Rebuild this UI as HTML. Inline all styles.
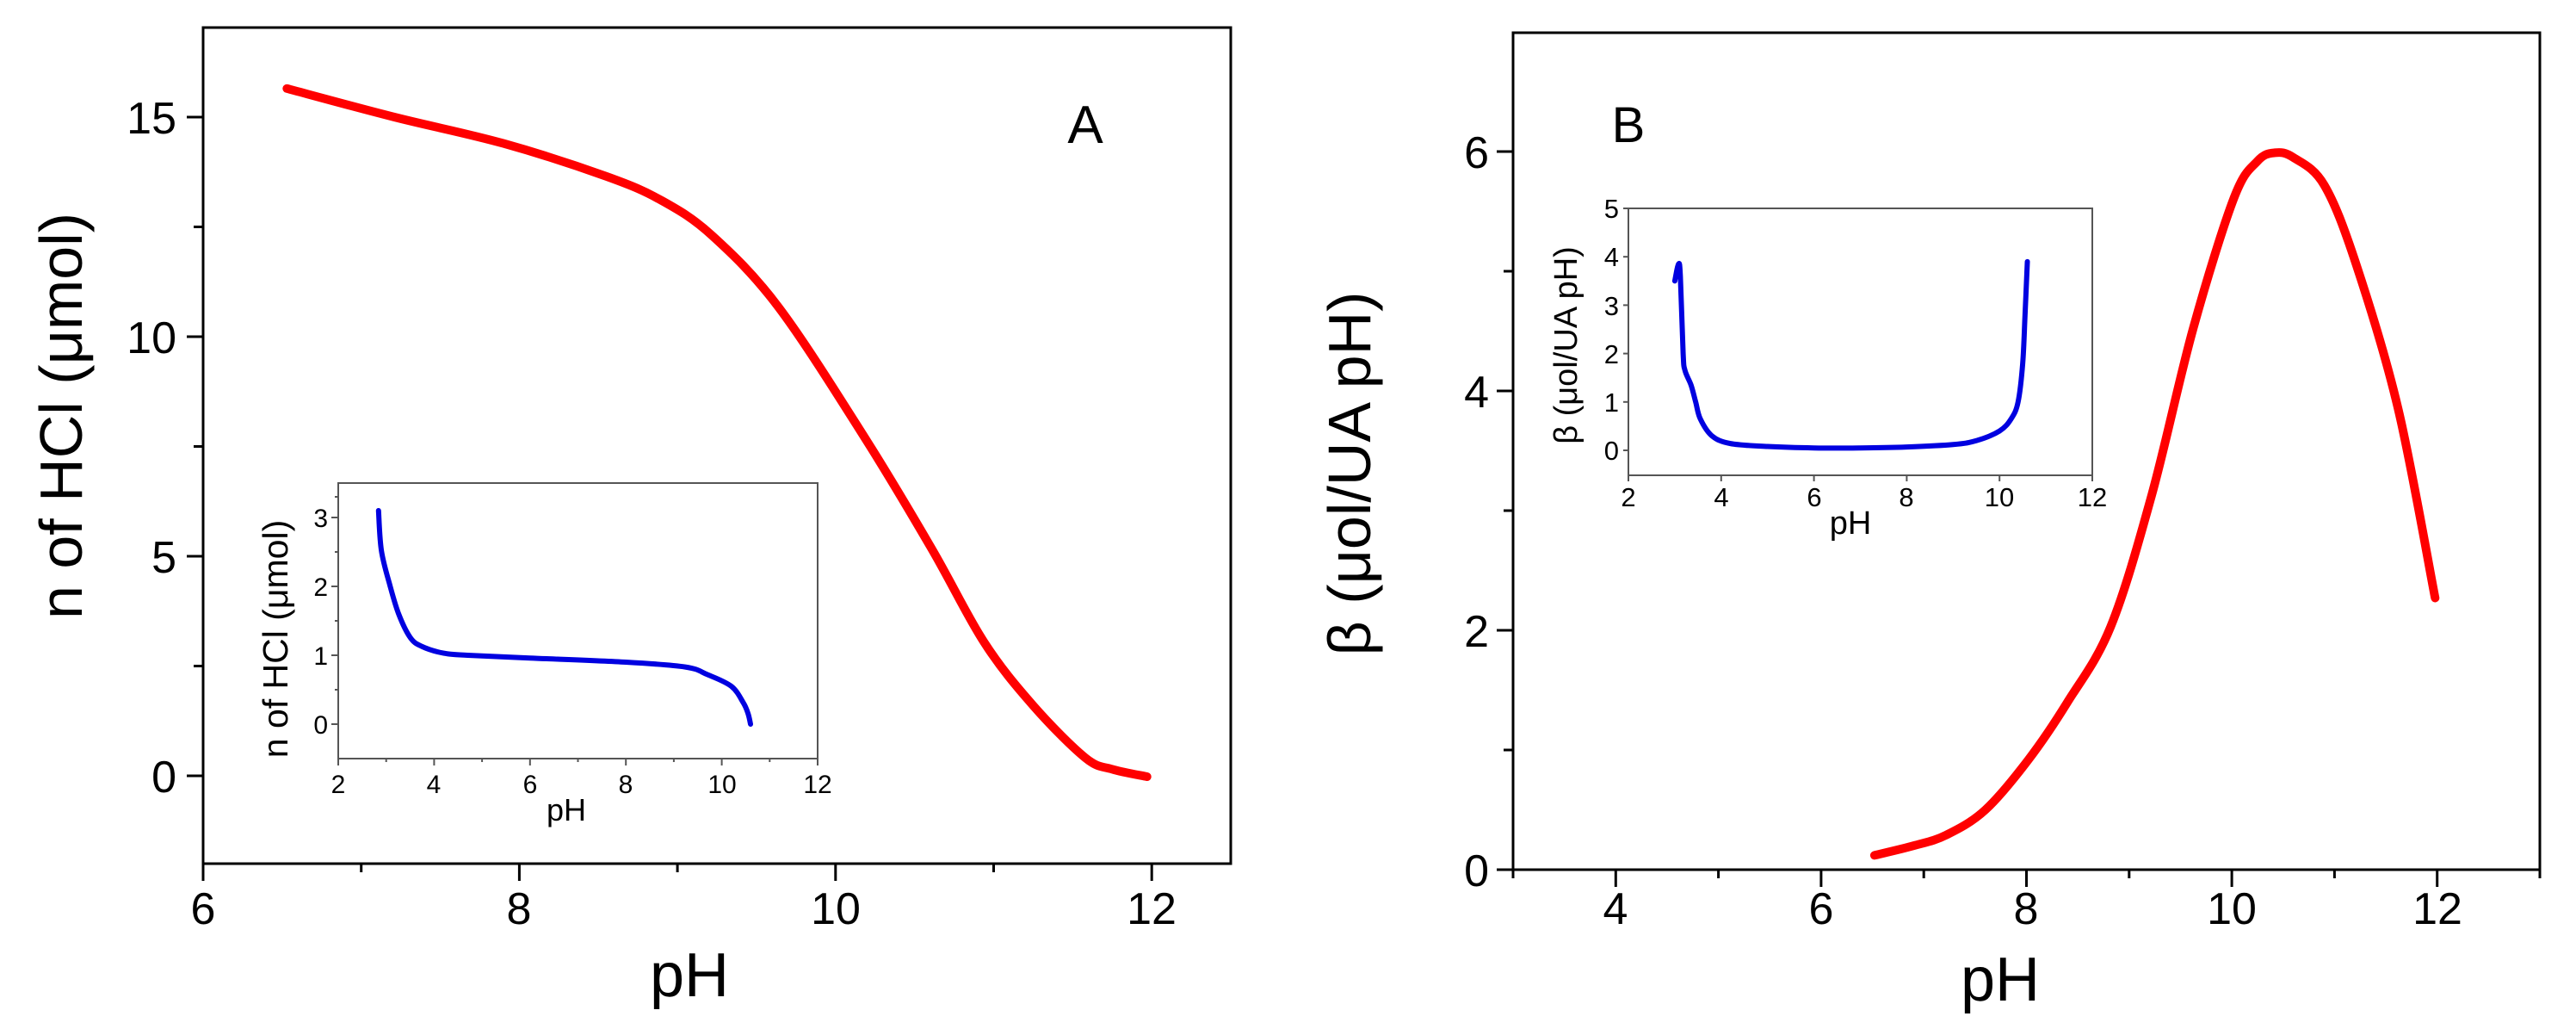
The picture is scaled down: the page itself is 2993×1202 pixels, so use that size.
<!DOCTYPE html>
<html><head><meta charset="utf-8"><style>
html,body{margin:0;padding:0;background:#fff}
svg{display:block}
text{font-family:"Liberation Sans",Arial,sans-serif;fill:#000}
</style></head><body>
<svg width="2993" height="1202" viewBox="0 0 2993 1202" xmlns="http://www.w3.org/2000/svg">
<!-- LEFT MAIN -->
<rect x="236" y="32" width="1194" height="971" fill="none" stroke="#000" stroke-width="3"/>
<g stroke="#000" stroke-width="3">
<line x1="217" y1="901" x2="236" y2="901"/><line x1="217" y1="646" x2="236" y2="646"/><line x1="217" y1="391" x2="236" y2="391"/><line x1="217" y1="136" x2="236" y2="136"/>
<line x1="225" y1="773.5" x2="236" y2="773.5"/><line x1="225" y1="518.5" x2="236" y2="518.5"/><line x1="225" y1="263.5" x2="236" y2="263.5"/>
<line x1="236" y1="1003" x2="236" y2="1023"/><line x1="603.4" y1="1003" x2="603.4" y2="1023"/><line x1="970.8" y1="1003" x2="970.8" y2="1023"/><line x1="1338.2" y1="1003" x2="1338.2" y2="1023"/>
<line x1="419.7" y1="1003" x2="419.7" y2="1013"/><line x1="787.1" y1="1003" x2="787.1" y2="1013"/><line x1="1154.5" y1="1003" x2="1154.5" y2="1013"/>
</g>
<g font-size="52" text-anchor="end">
<text x="205" y="920">0</text><text x="205" y="665">5</text><text x="205" y="410">10</text><text x="205" y="155">15</text>
</g>
<g font-size="52" text-anchor="middle">
<text x="236" y="1073">6</text><text x="603" y="1073">8</text><text x="971" y="1073">10</text><text x="1338" y="1073">12</text>
</g>
<text x="801" y="1157" font-size="72" text-anchor="middle">pH</text>
<text transform="translate(95,483) rotate(-90)" font-size="70" text-anchor="middle">n of HCl (μmol)</text>
<text x="1261" y="166" font-size="62" text-anchor="middle">A</text>
<path class="sm" transform="matrix(183.7,0,0,-51,-866.2,901)" vector-effect="non-scaling-stroke" fill="none" stroke="#f00" stroke-width="10" stroke-linecap="round" stroke-linejoin="round"
d="M6.53,15.65 L7.21,15.0 L7.9,14.4 L8.55,13.65 L8.9,13.1 L9.22,12.3 L9.64,10.67 L10.19,7.67 L10.61,5.16 L10.94,3.04 L11.25,1.6 L11.58,0.41 L11.75,0.15 L11.97,-0.02"/>
<!-- LEFT INSET -->
<rect x="393" y="561" width="557" height="320" fill="none" stroke="#555" stroke-width="2"/>
<g stroke="#555" stroke-width="2">
<line x1="385" y1="841" x2="393" y2="841"/><line x1="385" y1="761" x2="393" y2="761"/><line x1="385" y1="681" x2="393" y2="681"/><line x1="385" y1="601" x2="393" y2="601"/>
<line x1="389" y1="801" x2="393" y2="801"/><line x1="389" y1="721" x2="393" y2="721"/><line x1="389" y1="641" x2="393" y2="641"/><line x1="389" y1="577" x2="393" y2="577"/>
<line x1="393" y1="881" x2="393" y2="889"/><line x1="504.4" y1="881" x2="504.4" y2="889"/><line x1="615.8" y1="881" x2="615.8" y2="889"/><line x1="727.2" y1="881" x2="727.2" y2="889"/><line x1="838.6" y1="881" x2="838.6" y2="889"/><line x1="950" y1="881" x2="950" y2="889"/>
<line x1="448.7" y1="881" x2="448.7" y2="885"/><line x1="560.1" y1="881" x2="560.1" y2="885"/><line x1="671.5" y1="881" x2="671.5" y2="885"/><line x1="782.9" y1="881" x2="782.9" y2="885"/><line x1="894.3" y1="881" x2="894.3" y2="885"/>
</g>
<g font-size="30" text-anchor="end">
<text x="381" y="852">0</text><text x="381" y="772">1</text><text x="381" y="692">2</text><text x="381" y="612">3</text>
</g>
<g font-size="30" text-anchor="middle">
<text x="393" y="921">2</text><text x="504" y="921">4</text><text x="616" y="921">6</text><text x="727" y="921">8</text><text x="839" y="921">10</text><text x="950" y="921">12</text>
</g>
<text x="658" y="953" font-size="36" text-anchor="middle">pH</text>
<text transform="translate(334,742) rotate(-90)" font-size="41" text-anchor="middle">n of HCl (μmol)</text>
<path class="sm" transform="matrix(55.7,0,0,-80,281.6,841)" vector-effect="non-scaling-stroke" fill="none" stroke="#0000e0" stroke-width="6" stroke-linecap="round" stroke-linejoin="round"
d="M2.84,3.1 L2.9,2.52 L3.08,2.01 L3.26,1.6 L3.5,1.26 L3.74,1.13 L4.2,1.03 L4.7,1.0 L6,0.96 L8,0.9 L9.24,0.83 L9.7,0.72 L10.2,0.55 L10.45,0.31 L10.55,0.15 L10.6,0"/>
<!-- RIGHT MAIN -->
<rect x="1758" y="38" width="1193" height="972" fill="none" stroke="#000" stroke-width="3"/>
<g stroke="#000" stroke-width="3">
<line x1="1739" y1="1010" x2="1758" y2="1010"/><line x1="1739" y1="732" x2="1758" y2="732"/><line x1="1739" y1="454" x2="1758" y2="454"/><line x1="1739" y1="176" x2="1758" y2="176"/>
<line x1="1747" y1="871" x2="1758" y2="871"/><line x1="1747" y1="593" x2="1758" y2="593"/><line x1="1747" y1="315" x2="1758" y2="315"/>
<line x1="1877.3" y1="1010" x2="1877.3" y2="1030"/><line x1="2115.9" y1="1010" x2="2115.9" y2="1030"/><line x1="2354.5" y1="1010" x2="2354.5" y2="1030"/><line x1="2593.1" y1="1010" x2="2593.1" y2="1030"/><line x1="2831.7" y1="1010" x2="2831.7" y2="1030"/>
<line x1="1758" y1="1010" x2="1758" y2="1020"/><line x1="1996.6" y1="1010" x2="1996.6" y2="1020"/><line x1="2235.2" y1="1010" x2="2235.2" y2="1020"/><line x1="2473.8" y1="1010" x2="2473.8" y2="1020"/><line x1="2712.4" y1="1010" x2="2712.4" y2="1020"/><line x1="2951" y1="1010" x2="2951" y2="1020"/>
</g>
<g font-size="52" text-anchor="end">
<text x="1730" y="1029">0</text><text x="1730" y="751">2</text><text x="1730" y="473">4</text><text x="1730" y="195">6</text>
</g>
<g font-size="52" text-anchor="middle">
<text x="1877" y="1073">4</text><text x="2116" y="1073">6</text><text x="2354" y="1073">8</text><text x="2593" y="1073">10</text><text x="2832" y="1073">12</text>
</g>
<text x="2324" y="1162" font-size="72" text-anchor="middle">pH</text>
<text transform="translate(1592,550) rotate(-90)" font-size="70" text-anchor="middle">β (μol/UA pH)</text>
<text x="1892" y="165" font-size="58" text-anchor="middle">B</text>
<path class="sm" transform="matrix(119.3,0,0,-139,1400.1,1010)" vector-effect="non-scaling-stroke" fill="none" stroke="#f00" stroke-width="10" stroke-linecap="round" stroke-linejoin="round"
d="M6.52,0.12 L6.9,0.2 L7.22,0.29 L7.6,0.5 L8.02,0.92 L8.4,1.4 L8.82,2.03 L9.22,3.13 L9.62,4.51 L10.02,5.61 L10.25,5.92 L10.42,5.99 L10.6,5.95 L10.9,5.72 L11.21,5.06 L11.62,3.85 L11.98,2.27"/>
<!-- RIGHT INSET -->
<rect x="1892" y="242" width="539" height="310" fill="none" stroke="#555" stroke-width="2"/>
<g stroke="#555" stroke-width="2">
<line x1="1886" y1="523" x2="1892" y2="523"/><line x1="1886" y1="466.8" x2="1892" y2="466.8"/><line x1="1886" y1="410.6" x2="1892" y2="410.6"/><line x1="1886" y1="354.4" x2="1892" y2="354.4"/><line x1="1886" y1="298.2" x2="1892" y2="298.2"/><line x1="1886" y1="242" x2="1892" y2="242"/>
<line x1="1892" y1="552" x2="1892" y2="559"/><line x1="1999.8" y1="552" x2="1999.8" y2="559"/><line x1="2107.6" y1="552" x2="2107.6" y2="559"/><line x1="2215.4" y1="552" x2="2215.4" y2="559"/><line x1="2323.2" y1="552" x2="2323.2" y2="559"/><line x1="2431" y1="552" x2="2431" y2="559"/>
</g>
<g font-size="31" text-anchor="end">
<text x="1881" y="534">0</text><text x="1881" y="478">1</text><text x="1881" y="422">2</text><text x="1881" y="366">3</text><text x="1881" y="309">4</text><text x="1881" y="253">5</text>
</g>
<g font-size="31" text-anchor="middle">
<text x="1892" y="588">2</text><text x="2000" y="588">4</text><text x="2108" y="588">6</text><text x="2215" y="588">8</text><text x="2323" y="588">10</text><text x="2431" y="588">12</text>
</g>
<text x="2150" y="620" font-size="38" text-anchor="middle">pH</text>
<text transform="translate(1832,401) rotate(-90)" font-size="38" text-anchor="middle">β (μol/UA pH)</text>
<path class="sm" transform="matrix(53.9,0,0,-56.2,1784.2,523)" vector-effect="non-scaling-stroke" fill="none" stroke="#0000e0" stroke-width="6" stroke-linecap="round" stroke-linejoin="round"
d="M3.0,3.5 L3.08,3.85 L3.12,3.6 L3.18,2.0 L3.22,1.65 L3.35,1.35 L3.45,1.0 L3.55,0.65 L3.8,0.3 L4.2,0.14 L5,0.08 L6,0.05 L7,0.05 L8,0.07 L9,0.12 L9.5,0.2 L10,0.4 L10.25,0.65 L10.4,1.0 L10.5,1.8 L10.55,2.8 L10.6,3.9"/>
</svg>
<script>
document.querySelectorAll('path.sm').forEach(function(p){
  var pts=p.getAttribute('d').replace(/[ML]/g,' ').trim().split(/\s+/).map(function(s){var a=s.split(',');return [+a[0],+a[1]];});
  var d='M'+pts[0][0]+','+pts[0][1];
  for(var i=0;i<pts.length-1;i++){
    var p0=pts[i-1]||pts[i],p1=pts[i],p2=pts[i+1],p3=pts[i+2]||p2;
    var c1=[p1[0]+(p2[0]-p0[0])/6,p1[1]+(p2[1]-p0[1])/6];
    var c2=[p2[0]-(p3[0]-p1[0])/6,p2[1]-(p3[1]-p1[1])/6];
    d+=' C'+c1[0]+','+c1[1]+' '+c2[0]+','+c2[1]+' '+p2[0]+','+p2[1];
  }
  p.setAttribute('d',d);
});
</script>
</body></html>
